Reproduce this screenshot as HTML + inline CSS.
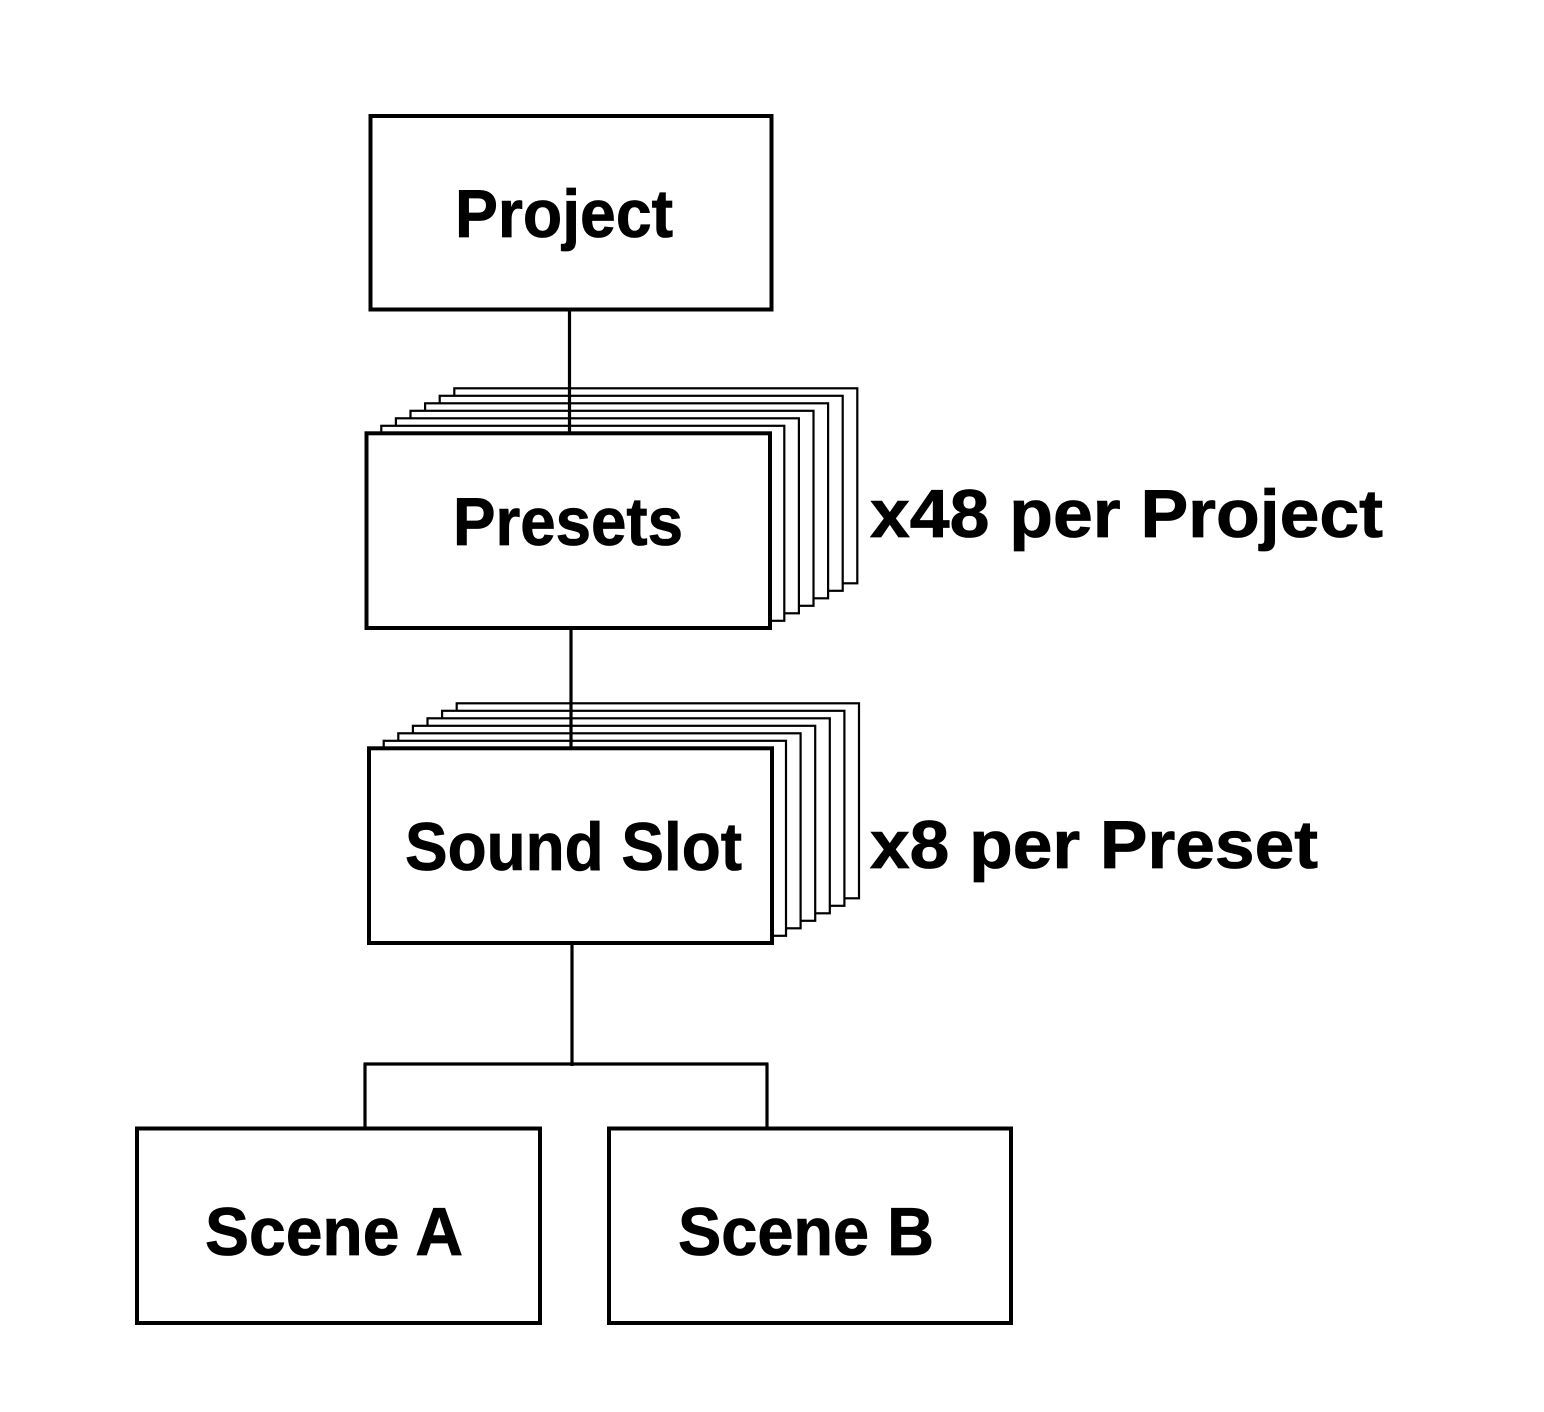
<!DOCTYPE html>
<html>
<head>
<meta charset="utf-8">
<style>
  html, body { margin: 0; padding: 0; background: #ffffff; }
  body { width: 1544px; height: 1412px; overflow: hidden; }
  svg { display: block; }
  text { font-family: "Liberation Sans", Arial, sans-serif; font-weight: bold; fill: #000; stroke: #000; stroke-width: 0.8; }
</style>
</head>
<body>
<svg width="1544" height="1412" viewBox="0 0 1544 1412" xmlns="http://www.w3.org/2000/svg">
  <rect x="0" y="0" width="1544" height="1412" fill="#fff"/>

  <!-- Project -->
  <rect x="370.5" y="116" width="401" height="193.5" fill="#fff" stroke="#000" stroke-width="4"/>
  <text x="455" y="237" font-size="68" textLength="218" lengthAdjust="spacingAndGlyphs">Project</text>

  <!-- Presets stack -->
  <g fill="#fff" stroke="#000" stroke-width="2.2">
    <rect x="454.3" y="388.3" width="403" height="195"/>
    <rect x="439.7" y="395.8" width="403" height="195"/>
    <rect x="425.1" y="403.3" width="403" height="195"/>
    <rect x="410.5" y="410.8" width="403" height="195"/>
    <rect x="395.9" y="418.3" width="403" height="195"/>
    <rect x="381.3" y="425.8" width="403" height="195"/>
  </g>
  <rect x="366.5" y="433.3" width="403.5" height="194.7" fill="#fff" stroke="#000" stroke-width="4"/>
  <text x="453" y="545" font-size="68" textLength="230" lengthAdjust="spacingAndGlyphs">Presets</text>

  <!-- Sound Slot stack -->
  <g fill="#fff" stroke="#000" stroke-width="2.2">
    <rect x="456.7" y="703.3" width="402.3" height="195"/>
    <rect x="442.1" y="710.8" width="402.3" height="195"/>
    <rect x="427.5" y="718.3" width="402.3" height="195"/>
    <rect x="412.9" y="725.8" width="402.3" height="195"/>
    <rect x="398.3" y="733.3" width="402.3" height="195"/>
    <rect x="383.7" y="740.8" width="402.3" height="195"/>
  </g>
  <rect x="369" y="748.3" width="403" height="194.7" fill="#fff" stroke="#000" stroke-width="4"/>
  <text x="405" y="870" font-size="68" textLength="337" lengthAdjust="spacingAndGlyphs">Sound Slot</text>

  <!-- Connectors -->
  <g stroke="#000" stroke-width="3.2" fill="none">
    <line x1="569.5" y1="310" x2="569.5" y2="433"/>
    <line x1="571" y1="628" x2="571" y2="748"/>
    <line x1="572" y1="943" x2="572" y2="1066"/>
    <line x1="363.5" y1="1064" x2="768.5" y2="1064"/>
    <line x1="365" y1="1064" x2="365" y2="1128"/>
    <line x1="767" y1="1064" x2="767" y2="1128"/>
  </g>

  <!-- Scenes -->
  <rect x="137" y="1128.5" width="403" height="194.5" fill="#fff" stroke="#000" stroke-width="4"/>
  <text x="205" y="1255" font-size="68" textLength="258" lengthAdjust="spacingAndGlyphs">Scene A</text>

  <rect x="609" y="1128.5" width="402" height="194.5" fill="#fff" stroke="#000" stroke-width="4"/>
  <text x="678" y="1255" font-size="68" textLength="256" lengthAdjust="spacingAndGlyphs">Scene B</text>

  <!-- Side labels -->
  <text x="870" y="537" font-size="68" textLength="513" lengthAdjust="spacingAndGlyphs">x48 per Project</text>
  <text x="870" y="868" font-size="68" textLength="448" lengthAdjust="spacingAndGlyphs">x8 per Preset</text>
</svg>
</body>
</html>
